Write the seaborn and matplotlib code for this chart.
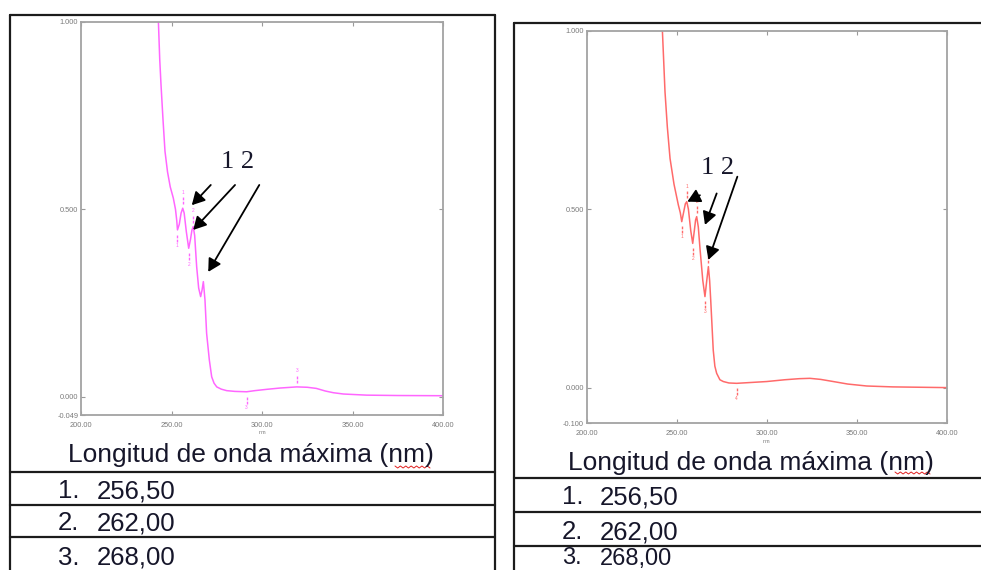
import numpy as np
import matplotlib
matplotlib.use("Agg")
import matplotlib.pyplot as plt
import seaborn as sns

# ---- spectrum 1 (magenta trace) ----
left_nm = [242.4, 243.5, 244.2, 245.3, 246.4, 247.8, 249.3, 251.0, 252.2, 252.9,
           253.3, 254.3, 255.3, 256.2, 257.0, 258.2, 259.5, 260.5, 261.3, 262.0,
           262.8, 263.9, 265.0, 266.1, 266.9, 267.6, 268.5, 269.4, 270.9, 272.2,
           273.5, 275.0, 277.5, 280.5, 285.0, 291.5, 296.0, 302.6, 310.0, 319.2,
           325.0, 330.0, 335.0, 339.4, 345.0, 357.8, 375.0, 398.0, 400.0]
left_abs = [1.05, 0.90, 0.833, 0.74, 0.655, 0.60, 0.56, 0.530, 0.50, 0.470,
            0.445, 0.46, 0.49, 0.503, 0.49, 0.44, 0.396, 0.42, 0.445, 0.454,
            0.43, 0.347, 0.29, 0.267, 0.285, 0.307, 0.258, 0.169, 0.098, 0.053,
            0.036, 0.026, 0.020, 0.016, 0.014, 0.013, 0.016, 0.0195, 0.023, 0.026,
            0.025, 0.022, 0.015, 0.0105, 0.007, 0.004, 0.003, 0.0025, 0.0025]
left_peaks = [256.2, 262.0, 319.2]
left_valleys = [253.3, 259.5, 291.5]
left_yticks = [-0.049, 0.0, 0.5, 1.0]

# ---- spectrum 2 (red trace) ----
right_nm = [241.8, 243.5, 244.8, 246.3, 248.5, 250.9, 252.0, 252.8, 253.8, 254.8,
            255.6, 256.5, 257.8, 258.9, 259.8, 260.5, 261.1, 262.0, 263.0, 264.5,
            265.7, 266.7, 267.6, 268.3, 268.9, 270.3, 271.2, 272.2, 274.0, 275.9,
            279.0, 283.3, 290.0, 300.0, 310.0, 318.0, 324.0, 330.0, 337.0, 345.0,
            355.6, 370.0, 385.0, 400.0]
right_abs = [1.03, 0.829, 0.73, 0.642, 0.57, 0.512, 0.49, 0.465, 0.49, 0.515,
             0.521, 0.50, 0.44, 0.404, 0.44, 0.47, 0.479, 0.45, 0.386, 0.30,
             0.255, 0.30, 0.339, 0.30, 0.245, 0.105, 0.06, 0.04, 0.022, 0.017,
             0.013, 0.012, 0.014, 0.017, 0.022, 0.025, 0.026, 0.023, 0.017, 0.010,
             0.0045, 0.002, 0.001, 0.000]
right_peaks = [255.6, 261.1, 267.6]
right_valleys = [252.8, 258.9, 265.7, 283.3]
right_yticks = [-0.100, 0.0, 0.5, 1.0]

x_ticks = [200, 250, 300, 350, 400]
table_title = "Longitud de onda máxima (nm)"
lambda_max = ["256,50", "262,00", "268,00"]

sns.set_style("white")
plt.rcParams["font.family"] = ["Liberation Sans", "DejaVu Sans"]

W, H = 981, 570
fig = plt.figure(figsize=(W / 100, H / 100), dpi=100)


def pixel_layer(z):
    """Full-figure axes in pixel units (y grows downward)."""
    lay = fig.add_axes([0, 0, 1, 1], zorder=z)
    lay.set_xlim(0, W)
    lay.set_ylim(H, 0)
    lay.axis("off")
    lay.patch.set_alpha(0)
    return lay


page = pixel_layer(0)

INK = "#1c1c1c"
TXT = "#16162a"


def px_rect(left, top, right, bottom):
    return [left / W, 1 - bottom / H, (right - left) / W, (bottom - top) / H]


def spectrum(rect, nm, absorb, color, yticks, peaks, valleys, arrows):
    ax = fig.add_axes(rect, zorder=1)
    sns.lineplot(x=nm, y=absorb, ax=ax, color=color, lw=1.1,
                 sort=False, estimator=None)
    ax.set_xlim(200, 400)
    ax.set_ylim(yticks[0], 1.0)
    ax.set_xticks(x_ticks)
    ax.set_xticklabels([f"{v:.2f}" for v in x_ticks])
    ax.set_yticks(yticks)
    ax.set_yticklabels([f"{v:.3f}" for v in yticks])
    ax.tick_params(direction="in", length=3, width=0.8, color="#9a9a9a",
                   labelsize=5.3, labelcolor="#7a7a7a",
                   bottom=True, left=True, top=True, right=True)
    ax.tick_params(axis="x", pad=5)
    ax.tick_params(axis="y", pad=2)
    ax.set_xlabel("nm", fontsize=4, color="#7a7a7a", labelpad=1)
    ax.set_ylabel("")
    for s in ax.spines.values():
        s.set_color("#a3a3a3")
        s.set_linewidth(1.3)
    # peak / valley pick marks
    for i, p in enumerate(peaks, 1):
        a = np.interp(p, nm, absorb)
        ax.vlines(p, a + 0.010, a + 0.032, color=color, lw=1.0, ls=(0, (2, 1)))
        ax.text(p, a + 0.036, str(i), fontsize=3.5, color=color,
                ha="center", va="bottom")
    for i, v in enumerate(valleys, 1):
        a = np.interp(v, nm, absorb)
        ax.vlines(v, a - 0.032, a - 0.010, color=color, lw=1.0, ls=(0, (2, 1)))
        ax.text(v, a - 0.036, str(i), fontsize=3.5, color=color,
                ha="center", va="top")
    for tip, tail in arrows:
        ax.annotate("", xy=tip, xytext=tail,
                    arrowprops=dict(arrowstyle="-|>,head_length=0.55,head_width=0.3",
                                    color="black", lw=1.3, shrinkA=0, shrinkB=0,
                                    mutation_scale=14))
    return ax


spectrum(px_rect(81, 22, 443, 415), left_nm, left_abs, "#ff66ff",
         left_yticks, left_peaks, left_valleys,
         [((261.2, 0.511), (271.7, 0.565)),
          ((262.0, 0.445), (285.1, 0.565)),
          ((270.3, 0.333), (298.5, 0.565))])

spectrum(px_rect(586.7, 30.7, 946.7, 423.3), right_nm, right_abs, "#ff6a6a",
         right_yticks, right_peaks, right_valleys,
         [((255.9, 0.521), (262.9, 0.539)),
          ((265.7, 0.456), (272.2, 0.544)),
          ((267.6, 0.358), (283.7, 0.591))])

# "1 2" labels over the arrows, on a layer above the plots
overlay = pixel_layer(2)
for x, y in [(238, 161.5), (717.5, 168.5)]:
    overlay.text(x, y, "1 2", family=["Liberation Serif", "DejaVu Serif"],
                 fontsize=19, color=TXT, ha="center", va="center")

# document boxes and table rows
box_lw = 1.6
page.plot([10, 495], [14.7, 14.7], color=INK, lw=box_lw)
page.plot([10, 10], [14.7, H], color=INK, lw=box_lw)
page.plot([495, 495], [14.7, H], color=INK, lw=box_lw)
page.plot([514, W], [22.7, 22.7], color=INK, lw=box_lw)
page.plot([514, 514], [22.7, H], color=INK, lw=box_lw)
for y in [471.7, 505, 537.3]:
    page.plot([10, 495], [y, y], color=INK, lw=box_lw)
for y in [478.3, 511.7, 546]:
    page.plot([514, W], [y, y], color=INK, lw=box_lw)

# table text
tables = [
    dict(x0=68, yb=461.7, xnum=58, xval=97, rows=[498.3, 530, 565],
         sizes=[18.5, 18.5, 18.5]),
    dict(x0=568, yb=470, xnum=562, xval=600, rows=[504, 539.3, 564.5],
         sizes=[18.5, 18.5, 17]),
]
for t in tables:
    page.text(t["x0"], t["yb"], table_title, fontsize=19, color=TXT,
              ha="left", va="baseline")
    for k, (yy, fs, val) in enumerate(zip(t["rows"], t["sizes"], lambda_max), 1):
        page.text(t["xnum"], yy, f"{k}.", fontsize=fs, color=TXT,
                  ha="left", va="baseline")
        page.text(t["xval"], yy, val, fontsize=fs, color=TXT,
                  ha="left", va="baseline")

# spell-check squiggle under "nm"
for xs, xe, yy in [(395, 430, 467), (895, 930, 473)]:
    n = int((xe - xs) / 2.5)
    xq = np.linspace(xs, xe, n)
    yq = yy + np.where(np.arange(n) % 2 == 0, -1.0, 1.0)
    page.plot(xq, yq, color="#e02020", lw=0.7)

fig.savefig("out.png", dpi=100)
